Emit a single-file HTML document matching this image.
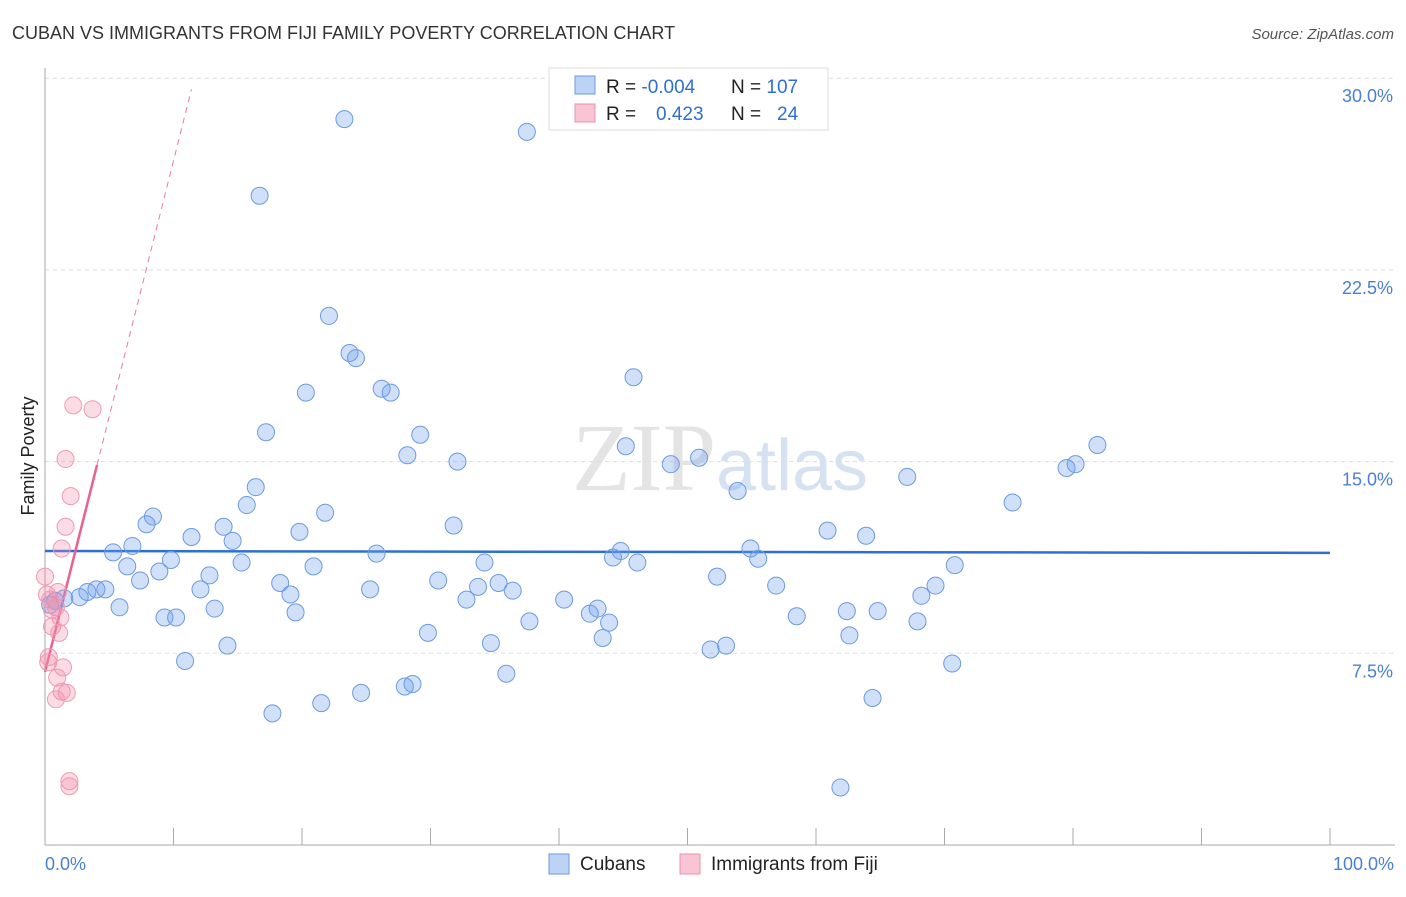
<!DOCTYPE html>
<html><head><meta charset="utf-8"><style>
body{margin:0;background:#fff;font-family:"Liberation Sans",sans-serif}
</style></head><body>
<svg width="1406" height="892" xmlns="http://www.w3.org/2000/svg" font-family="Liberation Sans, sans-serif">
<text x="12" y="39" font-size="18" fill="#333">CUBAN VS IMMIGRANTS FROM FIJI FAMILY POVERTY CORRELATION CHART</text>
<text x="1394" y="39" font-size="15" fill="#555" text-anchor="end" font-style="italic">Source: ZipAtlas.com</text>
<text x="720" y="490" font-size="96" fill="#e4e4e4" text-anchor="middle" font-family="Liberation Serif, serif">ZIP<tspan fill="#d6e2f2" font-family="Liberation Sans, sans-serif" font-size="72">atlas</tspan></text>
<g id="grid"></g>
<g id="axes"></g>
<text transform="translate(34,456) rotate(-90)" font-size="18" fill="#222" text-anchor="middle">Family Poverty</text>
<text x="45" y="870" font-size="18" fill="#4a7fd4">0.0%</text>
<text x="1394" y="870" font-size="18" fill="#4a7fd4" text-anchor="end">100.0%</text>
<g id="trends"></g>
<g id="pts"></g>
<g>
<rect x="549" y="68" width="279" height="62" fill="#fff" stroke="#ddd"/>
<rect x="575" y="76" width="20" height="18" fill="#bcd3f5" stroke="#6d9ae0"/>
<rect x="575" y="104" width="20" height="18" fill="#f9c5d4" stroke="#ec90ab"/>
<text x="606" y="93" font-size="19" fill="#222">R = <tspan fill="#2f6fd4">-0.004</tspan><tspan x="731">N = </tspan><tspan fill="#2f6fd4">107</tspan></text>
<text x="606" y="120" font-size="19" fill="#222">R = <tspan x="656" fill="#2f6fd4">0.423</tspan><tspan x="731">N = </tspan><tspan x="777" fill="#2f6fd4">24</tspan></text>
</g>
<g>
<rect x="549" y="854" width="20" height="20" fill="#bcd3f5" stroke="#6d9ae0"/>
<text x="580" y="870" font-size="19" fill="#222">Cubans</text>
<rect x="680" y="854" width="20" height="20" fill="#f9c5d4" stroke="#ec90ab"/>
<text x="711" y="870" font-size="19" fill="#222">Immigrants from Fiji</text>
</g>
</svg>
<script>
const yTicks=[7.5,15,22.5,30];
const yTickLabels=["7.5%","15.0%","22.5%","30.0%"];
const cubanX=[23.3,37.5,16.7,22.1,23.7,24.2,20.3,26.2,26.9,17.2,29.2,28.2,32.1,45.2,45.8,48.7,50.9,53.9,67.1,75.3,79.5,80.2,81.9,16.4,15.7,8.4,7.9,21.8,13.9,19.8,31.8,60.9,63.9,11.4,14.6,6.8,5.3,25.8,54.9,44.8,44.2,55.5,46.1,34.2,9.8,6.4,15.3,20.9,8.9,12.8,7.4,30.6,18.3,35.3,33.7,36.4,25.3,52.3,56.9,70.8,69.3,68.2,12.1,4.7,4.0,3.3,2.7,1.5,0.8,0.4,19.1,32.8,40.4,43.0,5.8,13.2,19.5,42.4,64.8,62.4,58.5,9.3,10.2,37.7,43.9,67.9,29.8,43.4,62.6,14.2,34.7,53.0,51.8,10.9,70.6,35.9,28.6,28.0,24.6,21.5,64.4,17.7,61.9];
const cubanY=[28.4,27.9,25.4,20.7,19.25,19.05,17.7,17.85,17.7,16.15,16.05,15.25,15.0,15.6,18.3,14.9,15.15,13.85,14.4,13.4,14.75,14.9,15.65,14.0,13.3,12.85,12.55,13.0,12.45,12.25,12.5,12.3,12.1,12.05,11.9,11.7,11.45,11.4,11.6,11.5,11.25,11.2,11.05,11.05,11.15,10.9,11.05,10.9,10.7,10.55,10.35,10.35,10.25,10.25,10.1,9.95,10.0,10.5,10.15,10.95,10.15,9.75,10.0,10.0,10.0,9.9,9.7,9.65,9.55,9.4,9.8,9.6,9.6,9.25,9.3,9.25,9.1,9.05,9.15,9.15,8.95,8.9,8.9,8.75,8.7,8.75,8.3,8.1,8.2,7.8,7.9,7.8,7.65,7.2,7.1,6.7,6.3,6.2,5.95,5.55,5.75,5.15,2.25];
const fijiX=[2.2,3.7,1.6,2.0,1.6,1.3,0.0,0.15,1.0,0.85,0.55,1.1,1.2,0.3,0.25,1.4,0.95,1.3,1.7,0.85,1.9,1.9,0.4,0.55];
const fijiY=[17.2,17.05,15.1,13.65,12.45,11.6,10.5,9.8,9.9,9.3,8.55,8.3,8.9,7.35,7.15,6.95,6.55,6.0,5.95,5.7,2.5,2.3,9.6,9.2];
const cubanTrend=[11.5,11.43]; // y at x=0 and x=100
const fijiIntercept=6.77, fijiSlope=2.0;
const X=v=>45+v*12.85, Y=v=>845-v*25.56;
const NS="http://www.w3.org/2000/svg";
function mk(t,a,p){const e=document.createElementNS(NS,t);for(const k in a)e.setAttribute(k,a[k]);p.appendChild(e);return e;}
const grid=document.getElementById('grid'),axes=document.getElementById('axes');
yTicks.forEach((t,i)=>{
 const l=mk('line',{x1:45,x2:1395,y1:Y(t),y2:Y(t),stroke:'#ddd','stroke-dasharray':'4,4'},grid);
 
 
 const tx=mk('text',{x:1393,y:Y(t)+24,'font-size':18,fill:'#4a7fd4','text-anchor':'end'},grid);
 tx.textContent=yTickLabels[i];
 
 
});
mk('line',{x1:45,x2:45,y1:68,y2:845,stroke:'#aaa'},axes);
mk('line',{x1:45,x2:1395,y1:845,y2:845,stroke:'#aaa'},axes);
for(let k=0;k<=10;k++){const t=mk('line',{x1:X(k*10),x2:X(k*10),y1:828,y2:845,stroke:'#aaa'},axes);
 
 }
const tr=document.getElementById('trends');
const bl=mk('line',{x1:X(0),x2:X(100),y1:Y(cubanTrend[0]),y2:Y(cubanTrend[1]),stroke:'#2f6fd4','stroke-width':2.5},tr);


const pd=mk('line',{x1:X(4.05),y1:Y(fijiIntercept+fijiSlope*4.05),x2:X(11.4),y2:Y(fijiIntercept+fijiSlope*11.4),stroke:'#e87aa0','stroke-width':1,'stroke-dasharray':'6,5'},tr);


const ps=mk('line',{x1:X(0),y1:Y(fijiIntercept),x2:X(4.05),y2:Y(fijiIntercept+fijiSlope*4.05),stroke:'#e8628f','stroke-width':2.5},tr);


const pts=document.getElementById('pts');
cubanX.forEach((x,i)=>{const c=mk('circle',{cx:X(x),cy:Y(cubanY[i]),r:8.5,fill:'rgba(110,160,235,0.32)',stroke:'#6d9ae0','stroke-width':1},pts);
 
 });
fijiX.forEach((x,i)=>{const c=mk('circle',{cx:X(x),cy:Y(fijiY[i]),r:8.5,fill:'rgba(242,140,170,0.3)',stroke:'#ee9ab5','stroke-width':1},pts);
 
 });
</script>
</body></html>
